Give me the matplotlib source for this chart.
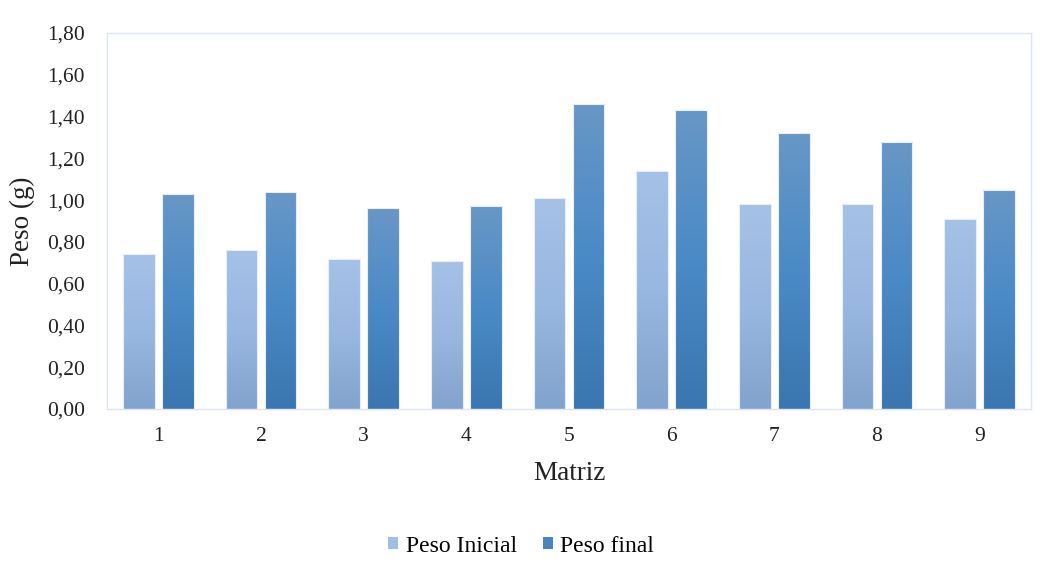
import matplotlib
matplotlib.use("Agg")
import matplotlib.pyplot as plt
import numpy as np
from matplotlib.colors import LinearSegmentedColormap
from matplotlib.patches import Patch
from matplotlib.ticker import FuncFormatter

plt.rcParams['font.family'] = ['Liberation Serif', 'DejaVu Serif']

categories = ['1', '2', '3', '4', '5', '6', '7', '8', '9']
peso_inicial = [0.74, 0.76, 0.72, 0.71, 1.01, 1.14, 0.98, 0.98, 0.91]
peso_final = [1.03, 1.04, 0.96, 0.97, 1.46, 1.43, 1.32, 1.28, 1.05]

fig = plt.figure(figsize=(10.5, 5.79), dpi=100)
ax = fig.add_axes([107/1050, 1-409/579, 924/1050, 376/579])

x = np.arange(len(categories))
w = 0.31
off = 0.19

cmap_light = LinearSegmentedColormap.from_list('l', ['#82a3cd', '#98b7e1', '#a5c1e6'])
cmap_dark = LinearSegmentedColormap.from_list('d', ['#3a76b0', '#4a8ac6', '#6897c7'])

bars1 = ax.bar(x - off, peso_inicial, width=w, color='none', edgecolor='#e8eef8', linewidth=0.8, zorder=3)
bars2 = ax.bar(x + off, peso_final, width=w, color='none', edgecolor='#e8eef8', linewidth=0.8, zorder=3)

grad = np.linspace(0, 1, 256).reshape(-1, 1)
for bars, cmap in ((bars1, cmap_light), (bars2, cmap_dark)):
    for b in bars:
        x0 = b.get_x()
        bw, bh = b.get_width(), b.get_height()
        im = ax.imshow(grad, cmap=cmap, origin='lower', aspect='auto',
                       extent=(x0, x0 + bw, 0, bh), zorder=2, interpolation='bilinear')
        im.set_clip_path(b)

ax.set_xlim(-0.5, len(categories) - 0.5)
ax.set_ylim(0, 1.8)
ax.set_yticks(np.arange(0, 1.81, 0.2))
ax.yaxis.set_major_formatter(FuncFormatter(lambda v, p: f"{v:.2f}".replace('.', ',')))
ax.set_xticks(x)
ax.set_xticklabels(categories)
ax.tick_params(axis='both', length=0, labelsize=15.5, colors='#222222')
ax.tick_params(axis='x', pad=13)
ax.tick_params(axis='y', pad=16)

for s in ax.spines.values():
    s.set_color('#dde5f2')
    s.set_linewidth(1.0)

ax.set_ylabel('Peso (g)', fontsize=19.5, color='#222222')
ax.yaxis.set_label_coords((22 - 107) / 924, 0.5)
ax.set_xlabel('Matriz', fontsize=19.5, color='#222222')
ax.xaxis.set_label_coords(0.5, -(474 - 409) / 376)
ax.xaxis.label.set_va('center')
ax.yaxis.label.set_va('center')

handles = [Patch(facecolor='#a0bde4', edgecolor='none', label='Peso Inicial'),
           Patch(facecolor='#4a85c0', edgecolor='none', label='Peso final')]
fig.legend(handles=handles, loc='center', bbox_to_anchor=(521/1050, 1-546/579), ncol=2,
           frameon=False, fontsize=17, handlelength=0.45, handleheight=0.45,
           handletextpad=0.3, columnspacing=1.1)

fig.savefig('out.png', dpi=100)
